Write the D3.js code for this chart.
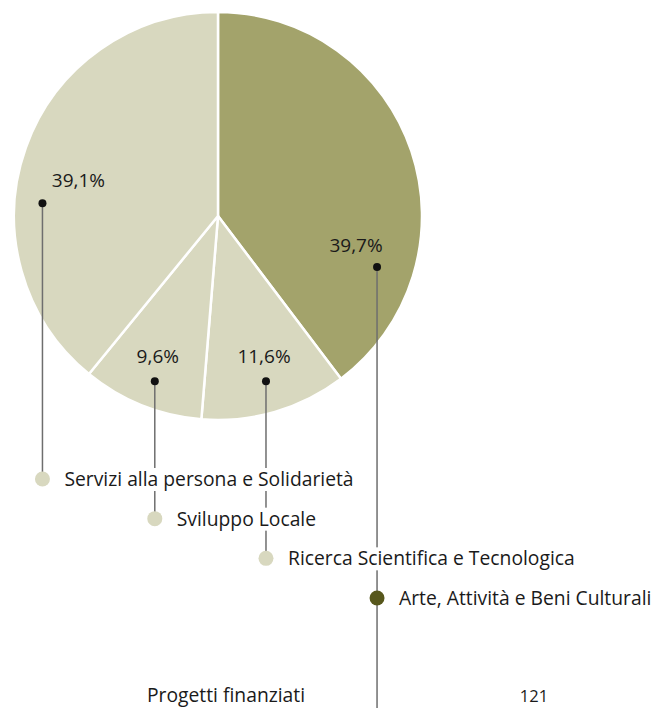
<!DOCTYPE html>
<html>
<head>
<meta charset="utf-8">
<script src="https://cdn.jsdelivr.net/npm/d3@7"></script>
<style>
  body { margin: 0; background: #fff; }
  svg { display: block; font-family: "Open Sans", sans-serif; }
</style>
</head>
<body>
<svg id="chart"></svg>
<script>
let w = 656;
let h = 708;

// data, in pie order (clockwise from 12 o'clock)
let categories = ["Arte, Attività e Beni Culturali", "Ricerca Scientifica e Tecnologica", "Sviluppo Locale", "Servizi alla persona e Solidarietà"];
let values = [39.7, 11.6, 9.6, 39.1];
let valueLabels = ["39,7%", "11,6%", "9,6%", "39,1%"];
// legend is listed bottom-up from the pie order
let legendOrder = [3, 2, 1, 0];

let sliceColor = ["#a3a36b", "#d8d8bf", "#d8d8bf", "#d8d8bf"];
let legendColor = ["#57571c", "#d8d8bf", "#d8d8bf", "#d8d8bf"];

// where the pointer dot sits inside each slice (fraction of slice angle) and label nudge
let dotPos = [0.754, 0.5, 0.47, 0.39];
let dotRad = [167, 172, 177, 176];
let labelDx = [-21, -2, 3, 36];
let labelDy = [-15, -18, -18, -16];

let cx = 218, cy = 216, radius = 204;
let fs = 19.3;

let svg = d3.select("#chart").attr("width", w).attr("height", h);

let pie = d3.pie().sort(null).value(function (d) { return d; });
let arcs = pie(values);
let arc = d3.arc().innerRadius(0).outerRadius(radius);

let g = svg.append("g").attr("transform", "translate(" + cx + "," + cy + ")");

g.selectAll(".slice")
  .data(arcs)
  .enter()
  .append("path")
  .attr("class", "slice")
  .attr("d", arc)
  .attr("fill", function (d, i) { return sliceColor[i]; })
  .attr("stroke", "#fff")
  .attr("stroke-width", 2.5)
  .attr("stroke-linejoin", "round");

// pointer dots
let dots = arcs.map(function (d, i) {
  let a = d.startAngle + (d.endAngle - d.startAngle) * dotPos[i];
  return { x: cx + dotRad[i] * Math.sin(a), y: cy - dotRad[i] * Math.cos(a) };
});

// legend rows
let rowY = d3.scalePoint().domain(legendOrder).range([479, 598]);

// leader lines
svg.selectAll(".leader")
  .data(dots)
  .enter()
  .append("line")
  .attr("class", "leader")
  .attr("x1", function (d) { return d.x; })
  .attr("x2", function (d) { return d.x; })
  .attr("y1", function (d) { return d.y; })
  .attr("y2", function (d, i) { return i === 0 ? h : rowY(i); })
  .attr("stroke", "#6e6e6e")
  .attr("stroke-width", 1.5);

svg.selectAll(".pdot")
  .data(dots)
  .enter()
  .append("circle")
  .attr("cx", function (d) { return d.x; })
  .attr("cy", function (d) { return d.y; })
  .attr("r", 4)
  .attr("fill", "#111");

svg.selectAll(".pct")
  .data(dots)
  .enter()
  .append("text")
  .attr("x", function (d, i) { return d.x + labelDx[i]; })
  .attr("y", function (d, i) { return d.y + labelDy[i]; })
  .attr("text-anchor", "middle")
  .attr("font-size", 19)
  .attr("fill", "#1a1a1a")
  .text(function (d, i) { return valueLabels[i]; });

// legend
let leg = svg.selectAll(".leg")
  .data(legendOrder)
  .enter()
  .append("g")
  .attr("class", "leg")
  .attr("transform", function (i) { return "translate(" + dots[i].x + "," + rowY(i) + ")"; });

let legText = leg.append("text")
  .attr("x", 22)
  .attr("y", 7)
  .attr("font-size", fs)
  .attr("fill", "#1a1a1a")
  .text(function (i) { return categories[i]; });

legText.each(function () {
  let b = this.getBBox();
  d3.select(this.parentNode).insert("rect", "text")
    .attr("x", b.x - 2)
    .attr("y", b.y + 3)
    .attr("width", b.width + 4)
    .attr("height", b.height - 4)
    .attr("fill", "#fff");
});

leg.append("circle")
  .attr("r", 7.5)
  .attr("fill", function (i) { return legendColor[i]; });

// footer
svg.append("text")
  .attr("x", 147)
  .attr("y", 702)
  .attr("font-size", fs)
  .attr("fill", "#1a1a1a")
  .text("Progetti finanziati");

svg.append("text")
  .attr("x", 534)
  .attr("y", 702)
  .attr("text-anchor", "middle")
  .attr("font-size", 16.5)
  .attr("fill", "#1a1a1a")
  .text("121");
</script>
</body>
</html>
